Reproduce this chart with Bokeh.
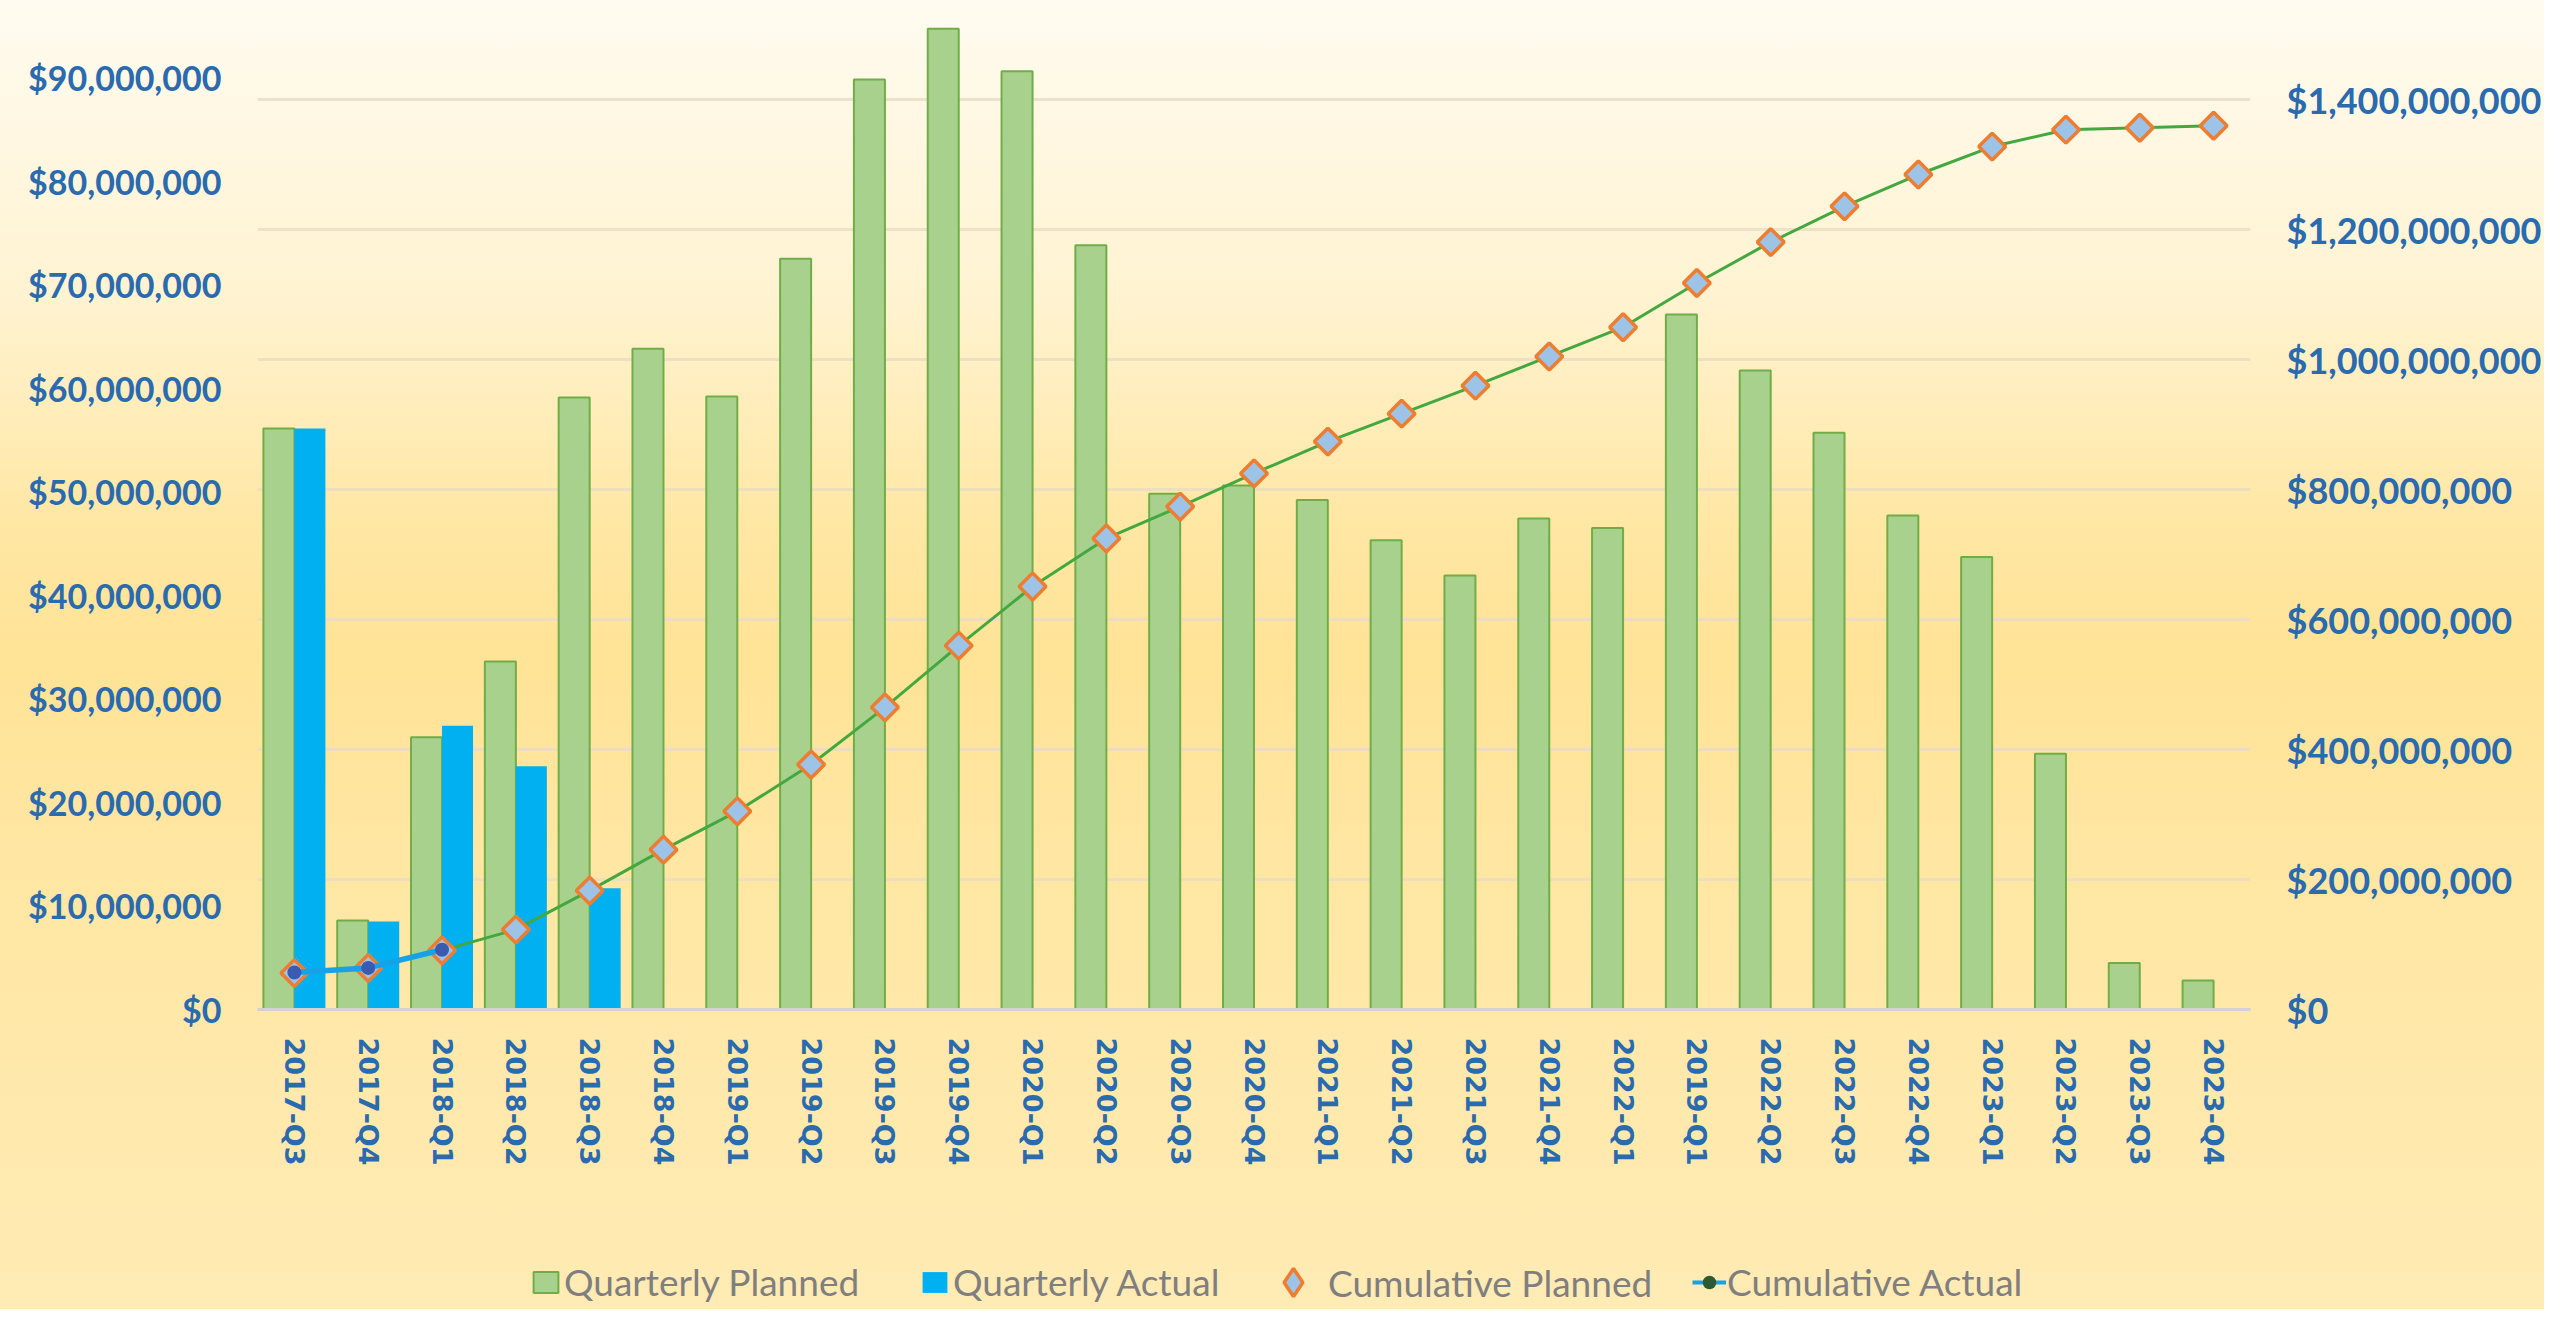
import math
from bokeh.plotting import figure
from bokeh.layouts import column
from bokeh.models import (Range1d, LinearAxis, FixedTicker, NumeralTickFormatter, Grid,
                          ColumnDataSource, Legend, LegendItem)
from bokeh.transform import dodge
from bokeh.embed import file_html
from bokeh.resources import INLINE

# ---------------- data ----------------
quarters = ["2017-Q3", "2017-Q4", "2018-Q1", "2018-Q2", "2018-Q3", "2018-Q4",
            "2019-Q1", "2019-Q2", "2019-Q3", "2019-Q4", "2020-Q1", "2020-Q2",
            "2020-Q3", "2020-Q4", "2021-Q1", "2021-Q2", "2021-Q3", "2021-Q4",
            "2022-Q1", "2019-Q1", "2022-Q2", "2022-Q3", "2022-Q4", "2023-Q1",
            "2023-Q2", "2023-Q3", "2023-Q4"]

quarterly_planned = [56.1e6, 8.6e6, 26.3e6, 33.6e6, 59.1e6, 63.8e6, 59.2e6, 72.5e6,
                     89.8e6, 94.7e6, 90.6e6, 73.8e6, 49.8e6, 50.6e6, 49.2e6, 45.3e6,
                     41.9e6, 47.4e6, 46.5e6, 67.1e6, 61.7e6, 55.7e6, 47.7e6, 43.7e6,
                     24.7e6, 4.5e6, 2.8e6]

quarterly_actual = [56.1e6, 8.5e6, 27.4e6, 23.5e6, 11.7e6]

cumulative_planned = [56e6, 64e6, 91e6, 123e6, 183e6, 246e6, 305e6, 377e6, 465e6,
                      560e6, 651e6, 725e6, 774e6, 825e6, 874e6, 917e6, 960e6,
                      1005e6, 1050e6, 1118e6, 1181e6, 1236e6, 1285e6, 1328e6,
                      1354e6, 1357e6, 1360e6]

cumulative_actual = [57e6, 64e6, 92e6]

left_ticks = [0, 10e6, 20e6, 30e6, 40e6, 50e6, 60e6, 70e6, 80e6, 90e6]
right_ticks = [0, 200e6, 400e6, 600e6, 800e6, 1000e6, 1200e6, 1400e6]
left_max = 97.43e6
right_max = 1552.8e6

legend_labels = ["Quarterly Planned", "Quarterly Actual", "Cumulative Planned", "Cumulative Actual"]

# ---------------- styling ----------------
TICK_BLUE = "#2a6aae"
GREEN_FILL = "#a9d18e"
GREEN_EDGE = "#70ad47"
BLUE_FILL = "#00b0f0"
LINE_GREEN = "#43a83f"
LINE_BLUE = "#17a2e8"
DIAMOND_FILL = "#9dc3e6"
DIAMOND_EDGE = "#ed7d31"
DOT_BLUE = "#3a5bb0"
LEGEND_GREY = "#7f7f7f"

W = 2544
MAIN_H = 1250
LEG_H = 59
FRAME_LEFT = 257

idx = list(range(len(quarters)))
src_q = ColumnDataSource(dict(x=idx, planned=quarterly_planned, cum=cumulative_planned))
src_a = ColumnDataSource(dict(x=idx[:len(quarterly_actual)], actual=quarterly_actual))
src_ca = ColumnDataSource(dict(x=idx[:len(cumulative_actual)], cum=cumulative_actual))

p = figure(width=W, height=MAIN_H, output_backend="svg", toolbar_location=None,
           title=None,
           x_range=Range1d(-0.5, len(quarters) - 0.5),
           y_range=Range1d(0, left_max),
           min_border_left=FRAME_LEFT, min_border_right=289,
           min_border_top=0, min_border_bottom=241)
p.background_fill_color = None
p.border_fill_color = None
p.outline_line_color = None

p.extra_y_ranges = {"cum": Range1d(0, right_max)}

p.xgrid.visible = False
p.ygrid.visible = False
grid = Grid(dimension=1, ticker=FixedTicker(ticks=right_ticks), y_range_name="cum",
            grid_line_color="#e8dcc2", grid_line_width=3, grid_line_alpha=0.8)
p.add_layout(grid)

# x axis
xa = p.xaxis[0]
xa.ticker = FixedTicker(ticks=idx)
xa.major_label_overrides = {i: q for i, q in zip(idx, quarters)}
xa.major_label_orientation = "vertical"
xa.major_label_text_font = "DejaVu Sans"
xa.major_label_text_font_style = "bold"
xa.major_label_text_font_size = "27px"
xa.major_label_text_color = TICK_BLUE
xa.major_label_standoff = 22
xa.axis_line_color = "#d2d2d2"
xa.axis_line_width = 3
xa.major_tick_line_color = None
xa.minor_tick_line_color = None

# left axis
ya = p.yaxis[0]
ya.ticker = FixedTicker(ticks=left_ticks)
ya.formatter = NumeralTickFormatter(format="$0,0")
ya.major_label_text_font = "Lato"
ya.major_label_text_font_style = "bold"
ya.major_label_text_font_size = "34px"
ya.major_label_text_color = TICK_BLUE
ya.major_label_standoff = 30
ya.axis_line_color = None
ya.major_tick_line_color = None
ya.minor_tick_line_color = None

# right axis
ra = LinearAxis(y_range_name="cum", ticker=FixedTicker(ticks=right_ticks),
                formatter=NumeralTickFormatter(format="$0,0"))
ra.major_label_text_font = "Lato"
ra.major_label_text_font_style = "bold"
ra.major_label_text_font_size = "36px"
ra.major_label_text_color = TICK_BLUE
ra.major_label_standoff = 30
ra.axis_line_color = None
ra.major_tick_line_color = None
ra.minor_tick_line_color = None
p.add_layout(ra, "right")

# bars
p.vbar(x=dodge("x", -0.21, range=p.x_range), top="planned", width=0.42, source=src_q,
       fill_color=GREEN_FILL, line_color=GREEN_EDGE, line_width=2)
p.vbar(x=dodge("x", 0.21, range=p.x_range), top="actual", width=0.42, source=src_a,
       fill_color=BLUE_FILL, line_color=None)

# cumulative planned
p.line("x", "cum", source=src_q, y_range_name="cum", line_color=LINE_GREEN, line_width=3)
p.scatter("x", "cum", source=src_q, y_range_name="cum", marker="square", angle=math.pi / 4,
          size=19, fill_color=DIAMOND_FILL, line_color=DIAMOND_EDGE, line_width=3.5)

# cumulative actual
p.line("x", "cum", source=src_ca, y_range_name="cum", line_color=LINE_BLUE, line_width=5.5)
p.scatter("x", "cum", source=src_ca, y_range_name="cum", marker="circle", size=14,
          fill_color=DOT_BLUE, line_color=None)

# ---------------- legend strip (own figure, same background) ----------------
pl = figure(width=W, height=LEG_H, output_backend="svg", toolbar_location=None, title=None,
            x_range=Range1d(0, 1), y_range=Range1d(0, 1),
            x_axis_location=None, y_axis_location=None,
            min_border_left=0, min_border_right=0, min_border_top=0, min_border_bottom=0)
pl.background_fill_color = None
pl.border_fill_color = None
pl.outline_line_color = None
pl.xgrid.visible = False
pl.ygrid.visible = False

# hidden renderers that only supply the legend swatches (same data sources)
lg_qp = pl.vbar(x="x", top="planned", width=0.5, source=src_q, fill_color=GREEN_FILL,
                line_color=GREEN_EDGE, line_width=2, visible=False)
lg_qa = pl.vbar(x="x", top="actual", width=0.5, source=src_a, fill_color=BLUE_FILL,
                line_color=None, visible=False)
lg_cp = pl.scatter(x="x", y="cum", source=src_q, marker="diamond",
                   fill_color=DIAMOND_FILL, line_color=DIAMOND_EDGE, line_width=3.5, visible=False)
lg_ca_line = pl.line(x="x", y="cum", source=src_ca, line_color=LINE_BLUE, line_width=4,
                     visible=False)
lg_ca_dot = pl.scatter(x="x", y="cum", source=src_ca, marker="circle", fill_color="#2d5a32",
                       line_color=None, visible=False)


def make_legend(label, renderers, loc, gw, gh, standoff):
    lg = Legend(items=[LegendItem(label=label, renderers=renderers)], location=loc,
                orientation="horizontal", glyph_width=gw, glyph_height=gh,
                label_standoff=standoff, padding=0, margin=0, spacing=0,
                border_line_color=None, background_fill_alpha=0,
                inactive_fill_alpha=0, click_policy="none",
                label_text_font="Lato", label_text_font_size="37px",
                label_text_color=LEGEND_GREY)
    pl.add_layout(lg)
    return lg


LY = 5
make_legend(legend_labels[0], [lg_qp], (530 - FRAME_LEFT, LY), 31, 26, 3)
make_legend(legend_labels[1], [lg_qa], (919 - FRAME_LEFT, LY), 31, 26, 3)
make_legend(legend_labels[2], [lg_cp], (1258 - FRAME_LEFT, LY - 13), 70, 70, -25)
make_legend(legend_labels[3], [lg_ca_line, lg_ca_dot], (1692 - FRAME_LEFT, LY), 34, 44, 1)

layout = column(p, pl, spacing=0)
layout.styles = {"background": "linear-gradient(180deg, #fffbf0 0%, #fff3d2 22%, #ffe7a4 40%, "
                               "#ffe396 50%, #ffe6a2 65%, #ffebb4 100%)"}

open("out.html", "w").write(file_html(layout, INLINE))
